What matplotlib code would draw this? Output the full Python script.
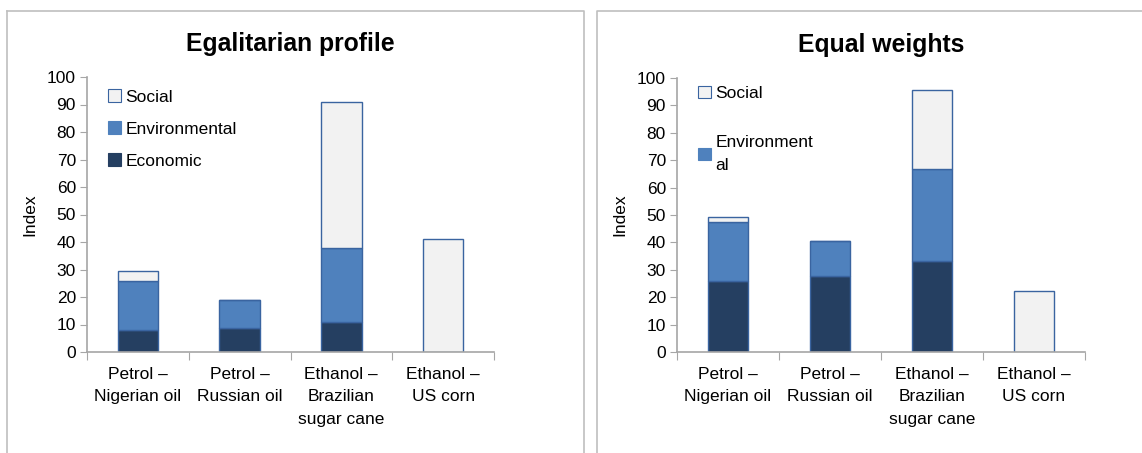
import numpy as np
import matplotlib
matplotlib.use('Agg')
import matplotlib.pyplot as plt
from matplotlib.patches import Patch
from matplotlib.lines import Line2D

plt.rcParams['font.family'] = ['Liberation Sans', 'DejaVu Sans']

# data
categories = ['Petrol –\nNigerian oil', 'Petrol –\nRussian oil',
              'Ethanol –\nBrazilian\nsugar cane', 'Ethanol –\nUS corn']

# Egalitarian profile (segment sizes)
ega_economic = [8.1, 8.8, 10.9, 0.0]
ega_environmental = [17.6, 10.2, 26.8, 0.0]
ega_social = [3.8, 0.0, 53.2, 41.1]

# Equal weights
eq_economic = [25.8, 27.9, 33.3, 0.0]
eq_environmental = [21.5, 12.7, 33.6, 0.0]
eq_social = [2.0, 0.0, 28.7, 22.4]

c_eco = '#253F61'
c_env = '#4F81BD'
c_soc = '#F2F2F2'
c_edge = '#3A64A0'
c_axis = '#A6A6A6'

fig = plt.figure(figsize=(11.42, 4.53), dpi=100)

# panel borders
fig.add_artist(Line2D([7/1142, 584/1142, 584/1142], [1-11/453, 1-11/453, 0], color='#BFBFBF', lw=1.2))
fig.add_artist(Line2D([7/1142, 7/1142], [0, 1-11/453], color='#BFBFBF', lw=1.2))
fig.add_artist(Line2D([597/1142, 597/1142, 1.0], [0, 1-11/453, 1-11/453], color='#BFBFBF', lw=1.2))


def draw(ax, eco, env, soc, title, labels):
    x = np.arange(len(categories))
    w = 0.4
    ax.bar(x, eco, w, color=c_eco, edgecolor=c_edge, linewidth=1)
    ax.bar(x, env, w, bottom=eco, color=c_env, edgecolor=c_edge, linewidth=1)
    b2 = np.array(eco) + np.array(env)
    ax.bar(x, soc, w, bottom=b2, color=c_soc, edgecolor=c_edge, linewidth=1)
    ax.set_xlim(-0.5, 3.5)
    ax.set_ylim(0, 100)
    ax.set_yticks(range(0, 101, 10))
    ax.set_xticks(np.arange(-0.5, 4, 1), minor=False)
    ax.set_xticklabels([])
    ax.set_xticks(x, minor=True)
    ax.set_xticklabels(categories, minor=True, fontsize=12.5, linespacing=1.6)
    ax.tick_params(axis='x', which='minor', length=0, pad=11)
    ax.tick_params(axis='x', which='major', length=6, color=c_axis, direction='out')
    ax.tick_params(axis='y', length=5, color=c_axis, labelsize=12.5, pad=3)
    for s in ['top', 'right']:
        ax.spines[s].set_visible(False)
    for s in ['left', 'bottom']:
        ax.spines[s].set_color(c_axis)
        ax.spines[s].set_linewidth(1.2)
    ax.set_ylabel('Index', fontsize=12.5, labelpad=7)
    ax.set_title(title, fontsize=17.8, fontweight='bold', pad=19)
    handles = [Patch(facecolor=c, edgecolor=e, linewidth=0.8) for c, e in labels[1]]
    leg = ax.legend(handles, labels[0], loc='upper left', bbox_to_anchor=labels[2],
                    frameon=False, fontsize=12.5, handlelength=0.75, handleheight=0.75,
                    handletextpad=0.25, labelspacing=labels[3], borderaxespad=0)
    for t in leg.get_texts():
        t.set_linespacing(1.65)


ax1 = fig.add_axes([87/1142, 1-352/453, (494-87)/1142, (352-77)/453])
draw(ax1, ega_economic, ega_environmental, ega_social, 'Egalitarian profile',
     (['Social', 'Environmental', 'Economic'],
      [(c_soc, c_edge), (c_env, c_env), (c_eco, c_eco)], (0.035, 0.98), 0.95))

ax2 = fig.add_axes([677/1142, 1-352/453, (1085-677)/1142, (352-78)/453])
draw(ax2, eq_economic, eq_environmental, eq_social, 'Equal weights',
     (['Social', 'Environment\nal'],
      [(c_soc, c_edge), (c_env, c_env)], (0.035, 0.997), 1.95))

fig.savefig('out.png', dpi=100)
